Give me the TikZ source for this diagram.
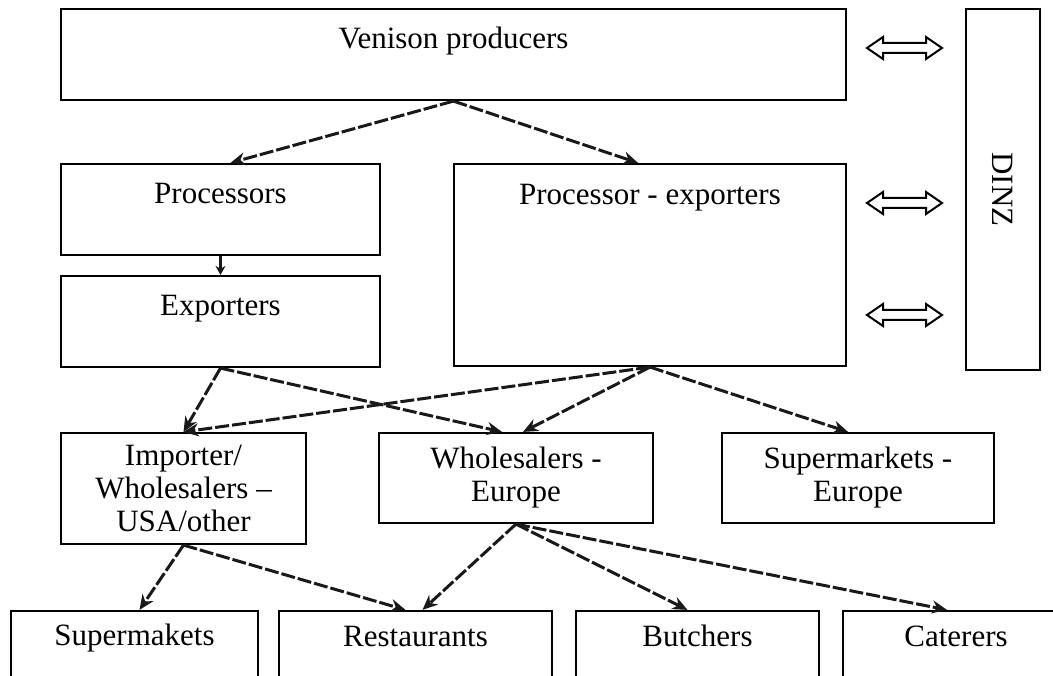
\documentclass[tikz,border=0pt]{standalone}
\usepackage{fontspec}
\setmainfont{Liberation Serif}
\usetikzlibrary{arrows.meta}

\begin{document}
\begin{tikzpicture}[x=1pt, y=-1pt,
        box/.style={draw, line width=2.2pt, inner sep=0pt},
        txt/.style={font=\fontsize{31}{33}\selectfont, align=center},
        flow/.style={line width=3pt, draw=black!90, dash pattern=on 14pt off 3pt,
                -{Stealth[length=15pt, width=13pt]}},
        dbl/.style={draw, line width=2pt, line join=miter, fill=white}]
        \fill[white] (0, 0) rectangle (1053, 676);
        \useasboundingbox (0, 0) rectangle (1053, 676);

        % boxes
        \node[box, minimum width=785pt, minimum height=91pt,
                label={[txt, anchor=base, yshift=-41pt]north:Venison producers}] (ven) at (453.5, 54.5) {};
        \node[box, minimum width=319pt, minimum height=91pt,
                label={[txt, anchor=base, yshift=-41pt]north:Processors}] (proc) at (220.5, 209.5) {};
        \node[box, minimum width=319pt, minimum height=91pt,
                label={[txt, anchor=base, yshift=-41pt]north:Exporters}] (expo) at (220.5, 321.5) {};
        \node[box, minimum width=392pt, minimum height=202pt,
                label={[txt, anchor=base, yshift=-42pt]north:Processor - exporters}] (procexp) at (650, 265) {};
        \node[box, txt, rotate=-90, minimum width=361pt, minimum height=74pt] (dinz) at (1003, 189.5) {DINZ};

        \node[box, txt, minimum width=245pt, minimum height=111pt] (imp) at (183.5, 488.5) {Importer/\\Wholesalers –\\USA/other};
        \node[box, txt, minimum width=274pt, minimum height=90pt] (whole) at (516, 478) {Wholesalers -\\Europe};
        \node[box, txt, minimum width=272pt, minimum height=90pt] (supeu) at (858, 478) {Supermarkets -\\Europe};

        \node[box, minimum width=247pt, minimum height=90pt,
                label={[txt, anchor=base, yshift=-36pt]north:Supermakets}] (supm) at (134.5, 656) {};
        \node[box, minimum width=273pt, minimum height=90pt,
                label={[txt, anchor=base, yshift=-37pt]north:Restaurants}] (rest) at (415.5, 656) {};
        \node[box, minimum width=243pt, minimum height=90pt,
                label={[txt, anchor=base, yshift=-37pt]north:Butchers}] (butch) at (697.5, 656) {};
        \node[box, minimum width=226pt, minimum height=90pt,
                label={[txt, anchor=base, yshift=-37pt]north:Caterers}] (cater) at (956, 656) {};

        % links to DINZ
        \coordinate (d1) at (867, 48);
        \coordinate (d2) at (867, 203);
        \coordinate (d3) at (867, 315);
        \draw[dbl] (d1) -- ++(16, -11) -- ++(0, 6) -- ++(43, 0) -- ++(0, -6) -- ++(16, 11)
                -- ++(-16, 11) -- ++(0, -6) -- ++(-43, 0) -- ++(0, 6) -- cycle;
        \draw[dbl] (d2) -- ++(16, -11) -- ++(0, 6) -- ++(43, 0) -- ++(0, -6) -- ++(16, 11)
                -- ++(-16, 11) -- ++(0, -6) -- ++(-43, 0) -- ++(0, 6) -- cycle;
        \draw[dbl] (d3) -- ++(16, -11) -- ++(0, 6) -- ++(43, 0) -- ++(0, -6) -- ++(16, 11)
                -- ++(-16, 11) -- ++(0, -6) -- ++(-43, 0) -- ++(0, 6) -- cycle;

        % flows
        \draw[flow] (ven.south) -- ([xshift=10pt]proc.north);
        \draw[flow] (ven.south) -- ([xshift=-12pt]procexp.north);
        \draw[flow, -{Stealth[length=9pt, width=10pt]}] (proc.south) -- (expo.north);

        \draw[flow] (expo.south) -- (imp.north);
        \draw[flow] (expo.south) -- ([xshift=-14pt]whole.north);
        \draw[flow] (procexp.south) -- (imp.north);
        \draw[flow] (procexp.south) -- ([xshift=7pt]whole.north);
        \draw[flow] (procexp.south) -- ([xshift=-10pt]supeu.north);

        \draw[flow] (imp.south) -- ([xshift=5pt]supm.north);
        \draw[flow] (imp.south) -- ([xshift=-10pt]rest.north);
        \draw[flow] (whole.south) -- ([xshift=7pt]rest.north);
        \draw[flow] (whole.south) -- ([xshift=-10pt]butch.north);
        \draw[flow] (whole.south) -- ([xshift=-9pt]cater.north);
\end{tikzpicture}
\end{document}
